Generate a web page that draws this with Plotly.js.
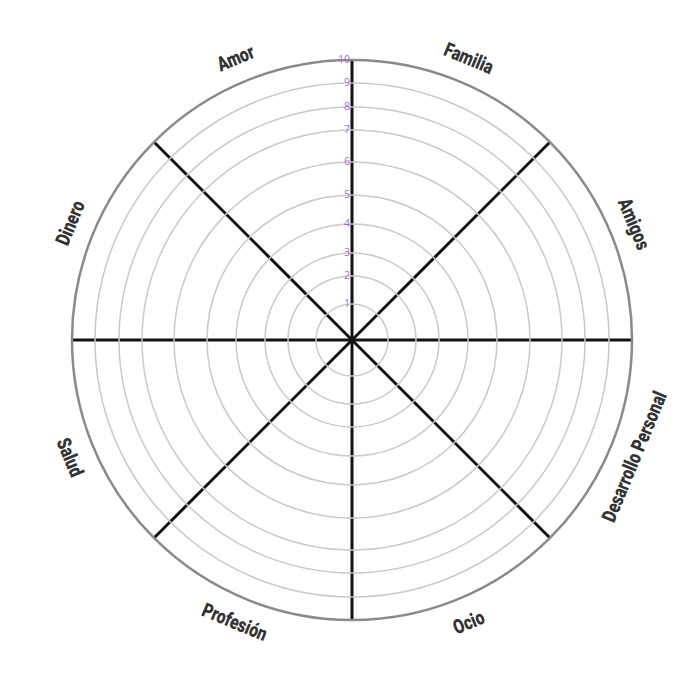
<!DOCTYPE html>
<html>
<head>
<meta charset="utf-8">
<script src="https://cdn.plot.ly/plotly-3.0.1.min.js"></script>
<style>html,body{margin:0;padding:0;background:#fff;}#chart{width:699px;height:699px;}</style>
</head>
<body>
<div id="chart"></div>
<script>
// Sector categories (counterclockwise from 22.5°)
const categories = ["Amigos", "Familia", "Amor", "Dinero", "Salud", "Profesión", "Ocio", "Desarrollo Personal"];
const sectorAngles = [22.5, 67.5, 112.5, 157.5, -157.5, -112.5, -67.5, -22.5];
// Ring values and their radial positions
const ringLabels = ["1", "2", "3", "4", "5", "6", "7", "8", "9", "10"];
const ringRadius = [36, 64, 87, 116, 145, 178, 210, 233, 257, 280];

const W = 699, H = 699;
const cx = 352, cy = H - 340, R = 280, labelR = 305;

const annotations = categories.map((c, i) => {
  const a = sectorAngles[i];
  const rad = a * Math.PI / 180;
  const ang = a >= 0 ? 90 - a : -90 - a;
  return {
    text: c, showarrow: false, xref: "paper", yref: "paper",
    x: (cx + labelR * Math.cos(rad)) / W, y: (cy + labelR * Math.sin(rad)) / H,
    xanchor: "center", yanchor: "middle", textangle: ang,
    font: {family: "Roboto, sans-serif", size: 20, color: "#333333", weight: 900}
  };
});

const data = [{type: "scatterpolar", r: [], theta: [], mode: "lines", showlegend: false, hoverinfo: "skip"}];

const layout = {
  width: W, height: H,
  margin: {l: 0, r: 0, t: 0, b: 0},
  paper_bgcolor: "#ffffff",
  showlegend: false,
  polar: {
    domain: {x: [(cx - R) / W, (cx + R) / W], y: [(cy - R) / H, (cy + R) / H]},
    bgcolor: "rgba(0,0,0,0)",
    radialaxis: {
      range: [0, 280], angle: 90, side: "counterclockwise",
      tickmode: "array", tickvals: ringRadius, ticktext: ringLabels,
      showline: false, ticks: "", tickangle: 90,
      gridcolor: "#c9c9c9", gridwidth: 1.5,
      tickfont: {family: "Open Sans, sans-serif", size: 10.5, color: "#a868d0"}
    },
    angularaxis: {
      type: "linear", rotation: 0, direction: "counterclockwise",
      tickmode: "linear", tick0: 0, dtick: 45,
      showticklabels: false, ticks: "",
      gridcolor: "#111111", gridwidth: 3,
      showline: true, linecolor: "#8a8a8a", linewidth: 2.5
    }
  },
  annotations: annotations
};

Plotly.newPlot("chart", data, layout, {displayModeBar: false, staticPlot: true}).then(gd => {
  // squeeze label glyphs horizontally to mimic the condensed display face
  document.querySelectorAll(".annotation-text").forEach(t => {
    const len = t.getComputedTextLength();
    t.setAttribute("textLength", (len * 0.78).toFixed(1));
    t.setAttribute("lengthAdjust", "spacingAndGlyphs");
  });
});
</script>
</body>
</html>
